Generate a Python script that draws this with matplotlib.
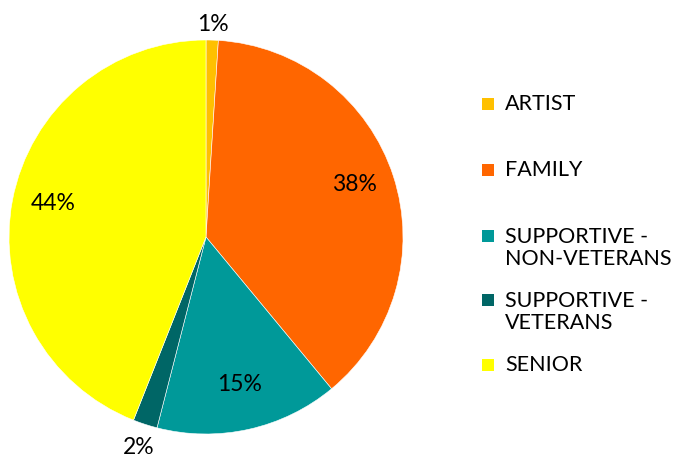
import numpy as np
import matplotlib
matplotlib.use("Agg")
import matplotlib.pyplot as plt
from matplotlib.patches import Rectangle

plt.rcParams['font.family'] = ['Lato', 'DejaVu Sans']

categories = ["ARTIST", "FAMILY", "SUPPORTIVE -\nNON-VETERANS", "SUPPORTIVE -\nVETERANS", "SENIOR"]
shares = [1, 38, 15, 2, 44]
colors = ["#FFC000", "#FF6600", "#009999", "#006666", "#FFFF00"]
outside = [True, False, False, True, False]

W, H = 680, 459
fig = plt.figure(figsize=(W / 100, H / 100), dpi=100)

cx, cy, r = 206, 237, 197
ax = fig.add_axes([(cx - r) / W, (H - cy - r) / H, 2 * r / W, 2 * r / H])
wedges, _ = ax.pie(shares, colors=colors, startangle=90, counterclock=False,
                   radius=1, wedgeprops=dict(linewidth=0.4, edgecolor="white"))
ax.set_xlim(-1, 1)
ax.set_ylim(-1, 1)
ax.set_aspect("equal")
ax.axis("off")

for w, val, out in zip(wedges, shares, outside):
    ang = np.deg2rad((w.theta1 + w.theta2) / 2)
    d = 1.10 if out else 0.79
    dy = -0.02 if out else 0.02
    ax.text(d * np.cos(ang), d * np.sin(ang) + dy, f"{val}%", ha="center", va="center",
            fontsize=16.5, color="black", clip_on=False)

# legend drawn in figure pixel coordinates
leg_y = [104, 170, 248, 312, 365]
for name, col, y in zip(categories, colors, leg_y):
    nlines = name.count("\n") + 1
    top = y - 12 * (nlines - 1)
    fig.patches.append(Rectangle((482 / W, (H - top - 6) / H), 12 / W, 12 / H,
                                 transform=fig.transFigure, facecolor=col,
                                 edgecolor="none"))
    fig.text(505 / W, (H - y) / H, name, ha="left", va="center", fontsize=15.5,
             color="black", linespacing=1.15)

fig.savefig("out.png", dpi=100)
